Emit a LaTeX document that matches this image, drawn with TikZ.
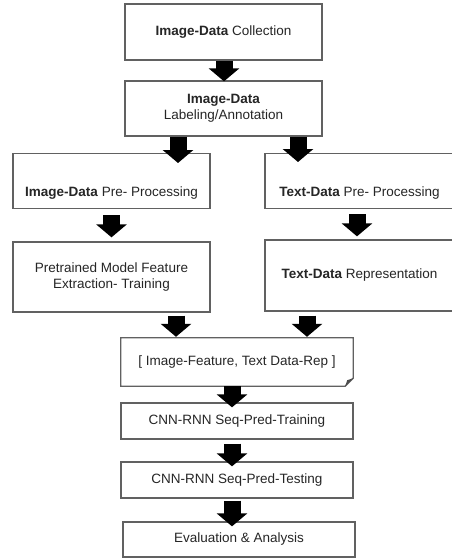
\documentclass[tikz,border=0pt]{standalone}
\usepackage{fontspec}
\setmainfont{Liberation Sans}
\usetikzlibrary{arrows.meta,calc}
\begin{document}
\begin{tikzpicture}[x=1pt,y=-1pt,
  box/.style={draw=black!62, line width=1.3pt, fill=white, text=black!85,
    align=center, inner sep=0pt, font=\fontsize{13.5}{16.5}\selectfont},
  plain/.style={inner sep=0pt, text=black!85, align=center,
    font=\fontsize{13.5}{16.5}\selectfont},
  blk/.style={line width=17pt, black, -{Triangle[length=13pt,width=30pt]}}]
\useasboundingbox (0,0) rectangle (452,558);

% process boxes
\node[box, minimum width=197pt, minimum height=56pt] (b1) at (223.5,32)
  {\textbf{Image-Data} Collection};
\node[box, minimum width=197pt, minimum height=55pt] (b2) at (223.5,108.5)
  {\textbf{Image-Data}\\Labeling/Annotation};
\node[box, minimum width=197pt, text height=43pt, text depth=12pt, anchor=north] (b3l) at (111.5,153)
  {\textbf{Image-Data} Pre- Processing};
\node[box, minimum width=189pt, text height=43pt, text depth=12pt, anchor=north] (b3r) at (359.5,153)
  {\textbf{Text-Data} Pre- Processing};
\node[box, minimum width=197pt, minimum height=70pt] (b4l) at (111.5,277)
  {Pretrained Model Feature\\Extraction- Training};
\node[box, minimum width=189pt, minimum height=71pt] (b4r) at (359.5,275.5)
  {\textbf{Text-Data} Representation};

% merged feature box with a folded corner
\node[plain, minimum width=232pt, minimum height=48pt] (f) at (237,362) {};
\draw[draw=black!62, line width=1.3pt, fill=white]
  (f.north west) -- (f.north east) -- ([yshift=8pt]f.south east)
  -- ([xshift=-8pt]f.south east) -- (f.south west) -- cycle;
\fill[black!70] ([yshift=8pt]f.south east) -- ([xshift=-8pt]f.south east)
  -- ([xshift=-6pt,yshift=6pt]f.south east) -- cycle;
\node[plain] at (f) {[ Image-Feature, Text Data-Rep ]};

\node[box, minimum width=232pt, minimum height=36pt] (c1) at (237,421)
  {CNN-RNN Seq-Pred-Training};
\node[box, minimum width=232pt, minimum height=36pt] (c2) at (237,480)
  {CNN-RNN Seq-Pred-Testing};
\node[box, minimum width=232pt, minimum height=35pt] (ev) at (239,539.5)
  {Evaluation \& Analysis};

% block arrows
\draw[blk] ($(b1.south)+(0.5,0)$) -- ($(b2.north)+(0.5,1)$);
\draw[blk] ($(b2.south)+(-45.5,0)$) -- ($(b3l.north)+(66.5,10)$);
\draw[blk] ($(b2.south)+(74.5,0)$) -- ($(b3r.north)+(-61.5,9)$);
\draw[blk] ($(b3l.south)+(0,6)$) -- ($(b4l.north)+(0,-4)$);
\draw[blk] ($(b3r.south)+(-2.5,5)$) -- ($(b4r.north)+(-2.5,-3)$);
\draw[blk] ($(b4l.south)+(64.5,3)$) -- ($(f.north)+(-61,-1)$);
\draw[blk] ($(b4r.south)+(-52.5,4)$) -- ($(f.north)+(70,-1)$);
\draw[blk] ($(f.south)+(-5,0)$) -- ($(c1.north)+(-5,5)$);
\draw[blk] ($(c1.south)+(-5,4)$) -- ($(c2.north)+(-5,5)$);
\draw[blk] ($(c2.south)+(-5,2)$) -- ($(ev.north)+(-7,5)$);
\end{tikzpicture}
\end{document}
